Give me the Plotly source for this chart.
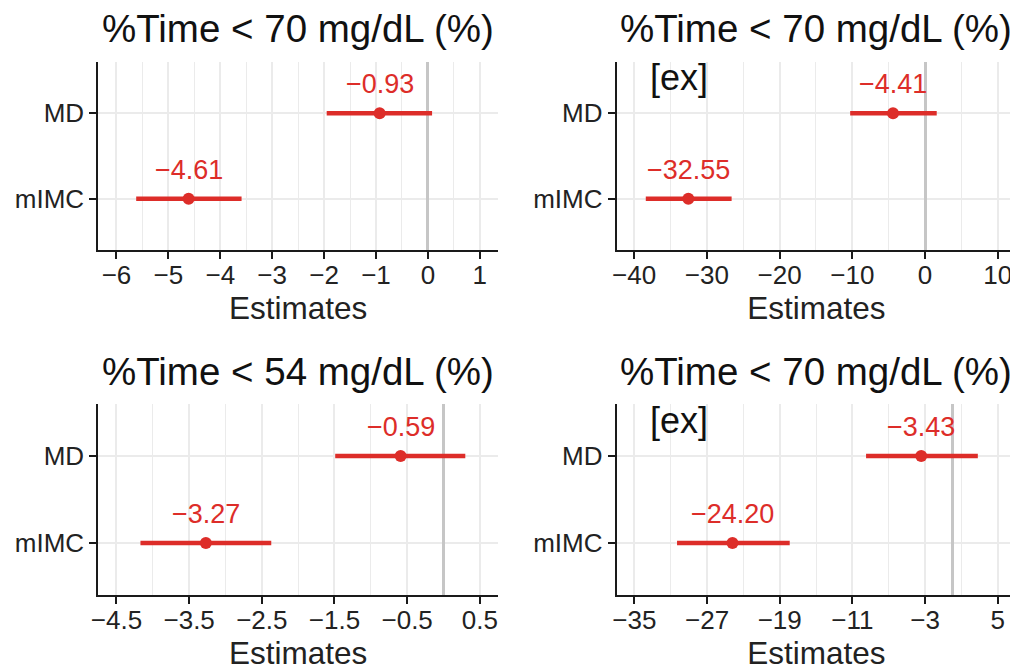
import plotly.graph_objects as go

# ---- data ----
terms = ["MD", "mIMC"]
panel_titles = ["%Time < 70 mg/dL (%)", "%Time < 70 mg/dL (%)",
                "%Time < 54 mg/dL (%)", "%Time < 70 mg/dL (%)"]
panel_tags = ["", "[ex]", "", "[ex]"]

est_p1 = [-0.93, -4.61]
lo_p1 = [-1.95, -5.62]
hi_p1 = [0.08, -3.59]
lab_p1 = ["\u22120.93", "\u22124.61"]

est_p2 = [-4.41, -32.55]
lo_p2 = [-10.3, -38.4]
hi_p2 = [1.6, -26.6]
lab_p2 = ["\u22124.41", "\u221232.55"]

est_p3 = [-0.59, -3.27]
lo_p3 = [-1.49, -4.17]
hi_p3 = [0.30, -2.37]
lab_p3 = ["\u22120.59", "\u22123.27"]

est_p4 = [-3.43, -24.20]
lo_p4 = [-9.5, -30.3]
hi_p4 = [2.8, -17.9]
lab_p4 = ["\u22123.43", "\u221224.20"]

panels = [
    (est_p1, lo_p1, hi_p1, lab_p1),
    (est_p2, lo_p2, hi_p2, lab_p2),
    (est_p3, lo_p3, hi_p3, lab_p3),
    (est_p4, lo_p4, hi_p4, lab_p4),
]

# ---- styling / layout ----
OFF = 8  # page body margin
W, H = 1018 - OFF, 672 - OFF
RED = "#DD2D29"
FONT = "Liberation Sans, Arial, sans-serif"
x_ranges = [[-6.35, 1.35], [-42.4, 12.5], [-4.75, 0.75], [-36.94, 7.0]]
x_tick0 = [0, 0, 0.5, -3]
x_dtick = [1, 10, 1, 8]
x_mtick0 = [0, 0, 0, -3]
x_mdtick = [0.5, 5, 0.5, 4]

px_x = [(98.3, 498), (616.7, 1016), (98.3, 498), (616.7, 1016)]
px_y = [(62, 250), (62, 250), (404, 595), (404, 595)]

fig = go.Figure()
annotations = []
layout = {}
for i, (est, lo, hi, lab) in enumerate(panels):
    n = i + 1
    xa = "x" if n == 1 else f"x{n}"
    ya = "y" if n == 1 else f"y{n}"
    fig.add_trace(go.Scatter(
        x=est, y=terms, mode="markers",
        marker=dict(color=RED, size=12),
        error_x=dict(type="data", symmetric=False,
                     array=[h - e for h, e in zip(hi, est)],
                     arrayminus=[e - l for e, l in zip(est, lo)],
                     color=RED, thickness=4.5, width=0),
        xaxis=xa, yaxis=ya, showlegend=False, hoverinfo="x+y"))
    for e, t, s in zip(est, terms, lab):
        annotations.append(dict(x=e, y=t, xref=xa, yref=ya, text=s,
                                showarrow=False, yshift=29,
                                font=dict(color=RED, size=27, family=FONT)))
    x0, x1 = px_x[i][0] - OFF, px_x[i][1] - OFF
    y0, y1 = px_y[i][0] - OFF, px_y[i][1] - OFF
    xdom = [x0 / W, min(x1 / W, 1.0)]
    ydom = [1 - y1 / H, 1 - y0 / H]
    axkey = "xaxis" if n == 1 else f"xaxis{n}"
    aykey = "yaxis" if n == 1 else f"yaxis{n}"
    layout[axkey] = dict(
        domain=xdom, anchor=ya, range=x_ranges[i], automargin=False,
        tick0=x_tick0[i], dtick=x_dtick[i],
        showgrid=True, gridcolor="#EBEBEB", gridwidth=1.6,
        minor=dict(tick0=x_mtick0[i], dtick=x_mdtick[i], showgrid=True,
                   gridcolor="#EBEBEB", gridwidth=1.3),
        zeroline=True, zerolinecolor="#C6C6C6", zerolinewidth=3,
        showline=True, linecolor="#1a1a1a", linewidth=2,
        ticks="outside", ticklen=7, tickwidth=1.6, tickcolor="#1a1a1a",
        ticklabelstandoff=-6,
        tickfont=dict(size=26, color="#222222", family=FONT),
        title=dict(text="Estimates", standoff=4,
                   font=dict(size=31.5, color="#222222", family=FONT)),
        fixedrange=True)
    layout[aykey] = dict(
        domain=ydom, anchor=xa, type="category", automargin=False,
        categoryorder="array", categoryarray=["mIMC", "MD"],
        range=[-0.6, 1.6],
        showgrid=True, gridcolor="#EBEBEB", gridwidth=1.6,
        showline=True, linecolor="#1a1a1a", linewidth=2,
        ticks="outside", ticklen=7, tickwidth=1.6, tickcolor="#1a1a1a",
        tickfont=dict(size=26, color="#222222", family=FONT),
        fixedrange=True)
    # panel title
    annotations.append(dict(x=(x0 + x1) / 2 / W, y=1 - (y0 - 33) / H,
                            xref="paper", yref="paper", text=panel_titles[i],
                            showarrow=False, xanchor="center", yanchor="middle",
                            font=dict(size=38.5, color="#111111", family=FONT)))
    if panel_tags[i]:
        annotations.append(dict(x=0.156, y=0.915, xref=f"{xa} domain",
                                yref=f"{ya} domain", text=panel_tags[i],
                                showarrow=False, xanchor="center", yanchor="middle",
                                font=dict(size=36, color="#111111", family=FONT)))

fig.update_layout(
    width=W, height=H, margin=dict(l=0, r=0, t=0, b=0),
    paper_bgcolor="white", plot_bgcolor="white",
    annotations=annotations, **layout)

fig.write_html("out.html")
